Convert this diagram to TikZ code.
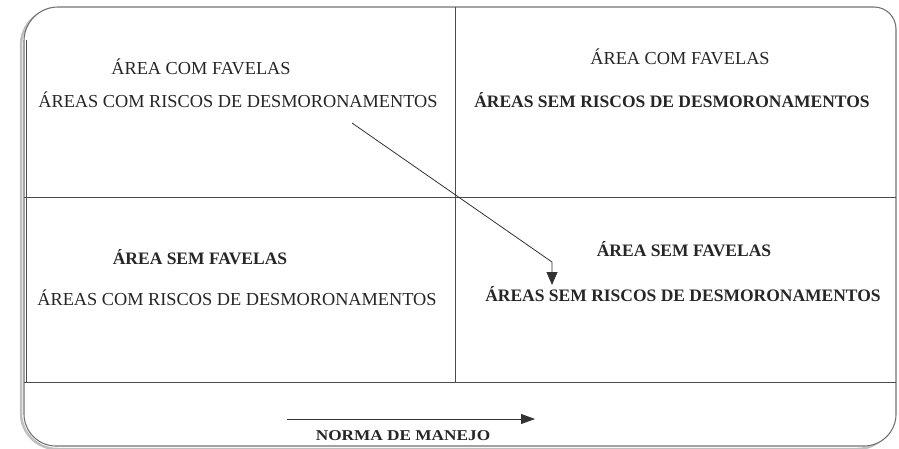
\documentclass[tikz,border=0pt]{standalone}
\usepackage{fontspec}
\setmainfont{Liberation Serif}
\usetikzlibrary{arrows.meta}
\begin{document}
\begin{tikzpicture}[x=1pt,y=-1pt,
  lbl/.style={inner sep=0pt, anchor=center, text=black!85, font=\fontsize{18.3}{20}\selectfont},
  lblb/.style={lbl, font=\fontsize{17.5}{20}\selectfont\bfseries},
  grid/.style={draw=black!70, line width=0.9pt},
  frame/.style={draw=black!55, line width=1.1pt},
  shadow/.style={draw=black!25, line width=2.5pt},
  conn/.style={draw=black!80, line width=0.8pt}]
\useasboundingbox (0,0) rectangle (899,448);
% shadow
\draw[shadow] (21,200) [rounded corners=36] -- (21,9) -- (893,9) -- (893,449) -- (21,449) [sharp corners] -- cycle;
\fill[white] (24,200) [rounded corners=34] -- (24,7) [rounded corners=22] -- (896,7) [rounded corners=32] -- (896,446) -- (24,446) [sharp corners] -- cycle;
% frame
\draw[frame] (24,200) [rounded corners=34] -- (24,7) [rounded corners=22] -- (896,7) [rounded corners=32] -- (896,446) -- (24,446) [sharp corners] -- cycle;
% grid
\draw[grid] (26,40) -- (26,382);
\draw[grid] (24,197) -- (896,197);
\draw[grid] (24,382) -- (896,382);
\draw[grid] (455,7) -- (455,382);
% texts
\node[lbl]  (tl1) at (201,67)  {ÁREA COM FAVELAS};
\node[lbl]  (tl2) at (238,100) {ÁREAS COM RISCOS DE DESMORONAMENTOS};
\node[lbl]  (tr1) at (680,57)  {ÁREA COM FAVELAS};
\node[lblb] (tr2) at (672,100) {ÁREAS SEM RISCOS DE DESMORONAMENTOS};
\node[lblb] (bl1) at (200,257) {ÁREA SEM FAVELAS};
\node[lbl]  (bl2) at (237,298) {ÁREAS COM RISCOS DE DESMORONAMENTOS};
\node[lblb] (br1) at (684,249) {ÁREA SEM FAVELAS};
\node[lblb] (br2) at (683,294) {ÁREAS SEM RISCOS DE DESMORONAMENTOS};
\node[lblb, font=\fontsize{15}{18}\selectfont\bfseries, xscale=1.15] (norma) at (403,436) {NORMA DE MANEJO};
% diagonal arrow
\coordinate (d0) at (352,123);
\coordinate (d1) at (552,262);
\coordinate (d2) at (552,285);
\draw[conn, -{Triangle[length=13pt,width=11pt]}] (d0) -- (d1) -- (d2);
% bottom arrow
\coordinate (b0) at (287,419);
\coordinate (b1) at (535,419);
\draw[conn, -{Triangle[length=14pt,width=10pt]}] (b0) -- (b1);
\end{tikzpicture}
\end{document}
